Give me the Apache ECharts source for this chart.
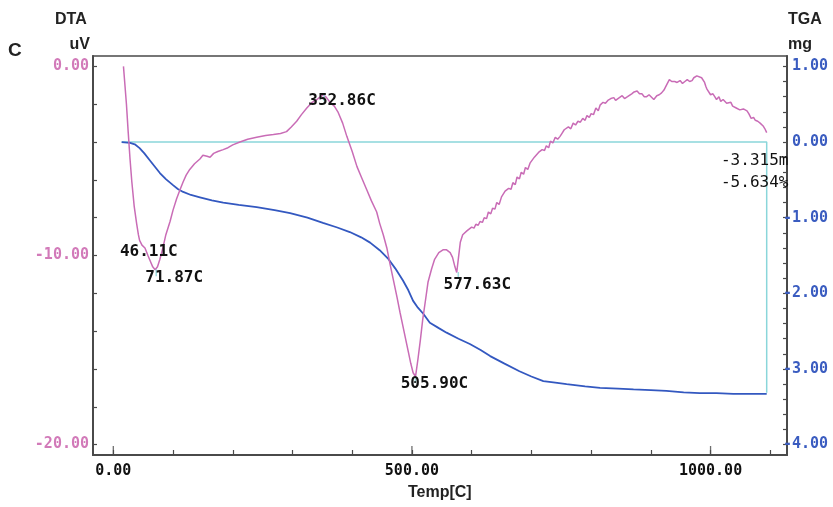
<!DOCTYPE html>
<html>
<head>
<meta charset="utf-8">
<script src="https://cdn.jsdelivr.net/npm/echarts@6/dist/echarts.min.js"></script>
<style>html,body{margin:0;padding:0;background:#fff}#c{width:833px;height:507px}</style>
</head>
<body>
<div id="c"></div>
<script>
// DTA curve (Temp °C, uV)
const dtaTemp = [17,19,22,25,28,31,35,39,42,44,48,53,58,62,66,70,74,78,83,88,95,100,106,112,117,122,128,136,145,150,153,157,162,168,175,184,192,200,212,225,240,255,268,280,290,298,307,315,324,333,341,347,352,357,363,370,376,384,391,400,408,416,424,432,441,446,452,458,463,469,475,480,485,490,494,498,502,506,510,514,518,523,527,533,538,545,552,558,564,568,572,575,578,581,585,592,600,604,607,611,614,618,621,625,628,632,635,639,642,646,650,653,656,659,662,666,669,673,676,680,683,687,690,694,698,701,705,708,712,715,718,722,725,729,732,736,740,744,748,751,755,758,762,766,770,774,778,782,786,790,793,797,800,804,808,812,815,818,820,824,828,833,838,841,845,848,852,856,861,864,868,872,877,881,885,889,893,897,900,905,910,914,918,922,926,929,931,933,935,938,940,944,949,953,957,961,965,969,972,975,977,980,985,988,990,992,994,997,1000,1002,1004,1007,1010,1014,1017,1021,1024,1027,1030,1034,1037,1040,1043,1046,1049,1052,1055,1058,1061,1064,1066,1068,1069,1072,1075,1079,1083,1086,1088,1091,1094];
const dtaValue = [0.0,-0.8,-2.0,-3.5,-4.9,-6.1,-7.4,-8.3,-8.9,-9.2,-9.45,-9.6,-10.0,-10.3,-10.6,-10.75,-10.6,-10.2,-9.6,-8.9,-8.2,-7.6,-7.0,-6.5,-6.1,-5.75,-5.45,-5.15,-4.9,-4.7,-4.6,-4.75,-4.8,-4.6,-4.5,-4.4,-4.3,-4.15,-4.0,-3.85,-3.75,-3.65,-3.6,-3.55,-3.45,-3.2,-2.9,-2.55,-2.2,-1.9,-1.75,-1.6,-1.5,-1.65,-1.9,-2.1,-2.4,-3.0,-3.7,-4.5,-5.3,-5.9,-6.5,-7.1,-7.7,-8.3,-8.9,-9.6,-10.4,-11.3,-12.2,-13.0,-13.75,-14.5,-15.1,-15.7,-16.2,-16.4,-15.5,-14.5,-13.4,-12.3,-11.4,-10.7,-10.2,-9.85,-9.7,-9.7,-9.85,-10.1,-10.6,-10.9,-10.1,-9.3,-8.9,-8.7,-8.5,-8.55,-8.35,-8.4,-8.2,-8.25,-8.0,-8.05,-7.7,-7.8,-7.5,-7.55,-7.2,-7.3,-6.9,-7.0,-6.6,-6.7,-6.45,-6.5,-6.15,-6.25,-5.85,-5.95,-5.6,-5.7,-5.35,-5.45,-5.1,-5.15,-4.8,-4.9,-4.55,-4.65,-4.4,-4.45,-4.2,-4.3,-3.95,-4.05,-3.75,-3.85,-3.7,-3.55,-3.35,-3.45,-3.2,-3.3,-3.0,-3.1,-2.9,-2.95,-2.75,-2.85,-2.6,-2.7,-2.5,-2.55,-2.2,-2.35,-2.05,-2.15,-1.9,-1.95,-1.8,-1.7,-1.65,-1.8,-1.7,-1.6,-1.55,-1.7,-1.6,-1.5,-1.45,-1.35,-1.3,-1.45,-1.45,-1.6,-1.6,-1.5,-1.6,-1.75,-1.55,-1.5,-1.4,-1.25,-1.0,-0.9,-0.7,-0.6,-0.8,-0.85,-0.8,-0.85,-0.75,-0.9,-0.8,-0.7,-0.8,-0.75,-0.6,-0.65,-0.5,-0.45,-0.6,-0.7,-0.85,-1.05,-1.2,-1.3,-1.5,-1.6,-1.45,-1.6,-1.75,-1.6,-1.85,-1.75,-1.8,-1.95,-2.0,-1.9,-2.1,-2.0,-2.2,-2.1,-2.3,-2.2,-2.25,-2.35,-2.35,-2.5,-2.6,-2.75,-2.8,-2.7,-2.85,-2.9,-3.0,-3.1,-3.15,-3.3,-3.5];

// TGA curve (Temp °C, mg)
const tgaTemp = [14,28,36,44,52,61,70,78,88,100,108,117,130,145,165,184,210,240,270,296,325,351,375,396,415,430,446,460,472,485,494,502,510,519,530,545,558,578,597,615,631,655,680,700,720,740,759,790,815,845,871,900,926,955,982,1010,1038,1065,1094];
const tgaValue = [0.0,-0.01,-0.03,-0.08,-0.15,-0.24,-0.33,-0.41,-0.49,-0.57,-0.62,-0.66,-0.70,-0.73,-0.77,-0.80,-0.83,-0.86,-0.90,-0.94,-1.0,-1.07,-1.13,-1.19,-1.26,-1.33,-1.43,-1.54,-1.67,-1.83,-1.96,-2.1,-2.19,-2.27,-2.39,-2.46,-2.52,-2.6,-2.67,-2.75,-2.83,-2.93,-3.03,-3.10,-3.16,-3.18,-3.2,-3.23,-3.25,-3.26,-3.27,-3.28,-3.29,-3.31,-3.32,-3.32,-3.33,-3.33,-3.33];

// TGA step marker (baseline 0 mg to final loss)
const stepTemp = [14, 1094, 1094];
const stepValue = [0, 0, -3.315];

// Peak annotations on DTA
const peakTemp = [46.11, 71.87, 352.86, 505.90, 577.63];
const peakValue = [-9.4, -10.75, -1.5, -16.4, -10.9];
const peakText = ['46.11C', '71.87C', '352.86C', '505.90C', '577.63C'];

// Mass-loss annotations
const lossText = ['-3.315m', '-5.634%'];

// Axis tick values / labels
const xTicks = [0,100,200,300,400,500,600,700,800,900,1000,1100];
const xMajor = [0, 500, 1000];
const dtaTicks = [0,-2,-4,-6,-8,-10,-12,-14,-16,-18,-20];
const dtaLabels = [0, -10, -20];
const tgaTicks = [1,0.8,0.6,0.4,0.2,0,-0.2,-0.4,-0.6,-0.8,-1,-1.2,-1.4,-1.6,-1.8,-2,-2.2,-2.4,-2.6,-2.8,-3,-3.2,-3.4,-3.6,-3.8,-4];
const tgaLabels = [1, 0, -1, -2, -3, -4];

const PINK = '#c96cb6', BLUE = '#3358c0', CYAN = '#8ad6da', FRAME = '#4a4a4a';
const MONO = 'DejaVu Sans Mono';
const DTA_MIN = -20.55, DTA_MAX = 0.55;

const zip = (a, b) => a.map((v, i) => [v, b[i]]);
const peakOffsets = [[8,8],[18,8],[18,6],[19,7],[19,12]];
const lossOffsets = [[-12,19],[-12,41]];

const chart = echarts.init(document.getElementById('c'), null, {renderer: 'canvas'});
const baseOption = {
  animation: false,
  backgroundColor: '#fff',
  grid: {left: 93, right: 46, top: 56, bottom: 52, show: true, borderColor: FRAME, borderWidth: 1.5, backgroundColor: 'transparent'},
  xAxis: {
    type: 'value', min: -34, max: 1128, position: 'bottom',
    axisLine: {show: true, onZero: false, lineStyle: {color: FRAME, width: 2}},
    axisTick: {show: true, inside: true, length: 5, customValues: xTicks, lineStyle: {color: FRAME, width: 1.2}},
    axisLabel: {customValues: xMajor, formatter: v => v.toFixed(2), margin: 9, color: '#111', fontFamily: MONO, fontWeight: 'bold', fontSize: 15},
    splitLine: {show: false}
  },
  yAxis: [{
    type: 'value', min: DTA_MIN, max: DTA_MAX, position: 'left',
    axisLine: {show: true, onZero: false, lineStyle: {color: FRAME, width: 2}},
    axisTick: {show: true, inside: true, length: 4, customValues: dtaTicks, lineStyle: {color: FRAME, width: 1.2}},
    axisLabel: {customValues: dtaLabels, formatter: v => v.toFixed(2), margin: 4, color: '#d27ab9', fontFamily: MONO, fontWeight: 'bold', fontSize: 15},
    splitLine: {show: false}
  }, {
    type: 'value', min: -4.1375, max: 1.1375, position: 'right',
    axisLine: {show: true, onZero: false, lineStyle: {color: FRAME, width: 2}},
    axisTick: {show: true, inside: true, length: 4, customValues: tgaTicks, lineStyle: {color: FRAME, width: 1.2}},
    axisLabel: {customValues: tgaLabels, formatter: v => (v >= 0 ? ' ' : '') + v.toFixed(2), margin: -4, color: '#3a5cc0', fontFamily: MONO, fontWeight: 'bold', fontSize: 15},
    splitLine: {show: false}
  }],
  series: [{
    name: 'TGA step', type: 'line', yAxisIndex: 1, data: zip(stepTemp, stepValue),
    showSymbol: false, symbol: 'none', lineStyle: {color: CYAN, width: 1.5}, z: 2
  }, {
    name: 'TGA', type: 'line', yAxisIndex: 1, data: zip(tgaTemp, tgaValue),
    showSymbol: false, symbol: 'none', lineStyle: {color: BLUE, width: 1.8}, z: 3
  }, {
    name: 'DTA', type: 'line', yAxisIndex: 0, data: zip(dtaTemp, dtaValue),
    showSymbol: false, symbol: 'none', lineStyle: {color: PINK, width: 1.5}, z: 4
  }, {
    name: 'peak marks', type: 'scatter', yAxisIndex: 0,
    data: zip(peakTemp, peakValue).slice(1),
    symbol: 'rect', symbolSize: [1.5, 7], symbolOffset: [0, 3], itemStyle: {color: CYAN}, z: 5
  }, {
    name: 'major x ticks', type: 'scatter', yAxisIndex: 0,
    data: xMajor.map(t => [t, DTA_MIN]),
    symbol: 'rect', symbolSize: [1.3, 9], symbolOffset: [0, -4.5], itemStyle: {color: FRAME}, z: 5, silent: true
  }],
  graphic: [
    {type: 'text', left: 55, top: 12, style: {text: 'DTA', font: 'bold 16px "Liberation Sans"', fill: '#222'}},
    {type: 'text', right: 833 - 90, top: 37, style: {text: 'uV', font: 'bold 16px "Liberation Sans"', fill: '#222'}},
    {type: 'text', left: 8, top: 41, style: {text: 'C', font: 'bold 19px "Liberation Sans"', fill: '#222'}},
    {type: 'text', left: 788, top: 12, style: {text: 'TGA', font: 'bold 16px "Liberation Sans"', fill: '#222'}},
    {type: 'text', left: 788, top: 37, style: {text: 'mg', font: 'bold 16px "Liberation Sans"', fill: '#222'}},
    {type: 'text', left: 408, top: 485, style: {text: 'Temp[C]', font: 'bold 16px "Liberation Sans"', fill: '#222'}}
  ]
};
chart.setOption(baseOption);

// Annotation texts anchored on data coordinates
const annos = [];
peakTemp.forEach((t, i) => {
  const p = chart.convertToPixel({xAxisIndex: 0, yAxisIndex: 0}, [t, peakValue[i]]);
  annos.push({type: 'text', x: p[0] + peakOffsets[i][0], y: p[1] + peakOffsets[i][1], z: 10,
    style: {text: peakText[i], font: 'bold 16px "' + MONO + '"', fill: '#111', align: 'center', verticalAlign: 'middle'}});
});
lossText.forEach((s, i) => {
  const p = chart.convertToPixel({xAxisIndex: 0, yAxisIndex: 1}, [stepTemp[1], stepValue[1]]);
  annos.push({type: 'text', x: p[0] + lossOffsets[i][0], y: p[1] + lossOffsets[i][1], z: 10,
    style: {text: s, font: '16px "' + MONO + '"', fill: '#111', align: 'center', verticalAlign: 'middle'}});
});
chart.setOption({graphic: baseOption.graphic.concat(annos)});
</script>
</body>
</html>
